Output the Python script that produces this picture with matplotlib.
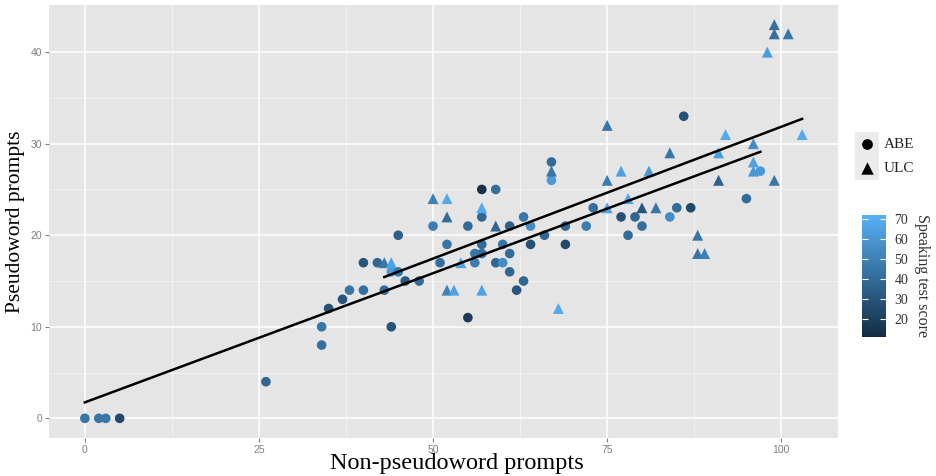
import numpy as np
import matplotlib.pyplot as plt
from matplotlib.colors import LinearSegmentedColormap, Normalize
from matplotlib.colorbar import ColorbarBase

# ABE group (circles): non-pseudoword score, pseudoword score, speaking test score
abe_x = [0, 2, 3, 5, 26, 34, 34, 35, 37, 38, 40, 43, 40, 42, 44, 45, 45, 44, 46, 48,
         50, 51, 52, 55, 55, 56, 56, 57, 57, 57, 57, 59, 59, 60, 60, 61, 61, 61, 62, 63,
         63, 64, 64, 66, 67, 67, 69, 69, 72, 73, 77, 78, 79, 80, 84, 85, 86, 87, 95, 97]
abe_y = [0, 0, 0, 0, 4, 8, 10, 12, 13, 14, 14, 14, 17, 17, 16, 16, 20, 10, 15, 15,
         21, 17, 19, 21, 11, 18, 17, 25, 22, 19, 18, 25, 17, 17, 19, 21, 18, 16, 14, 15,
         22, 21, 19, 20, 28, 26, 21, 19, 21, 23, 22, 20, 22, 21, 22, 23, 33, 23, 24, 27]
abe_score = [45, 45, 45, 25, 38, 42, 45, 28, 30, 45, 42, 40, 30, 38, 62, 45, 35, 30, 32, 40,
             48, 42, 45, 40, 18, 45, 48, 14, 38, 40, 42, 42, 38, 55, 45, 35, 40, 38, 30, 38,
             45, 55, 28, 38, 40, 62, 38, 25, 48, 42, 28, 40, 38, 42, 55, 40, 28, 25, 40, 60]

# ULC group (triangles)
ulc_x = [43, 44, 50, 52, 52, 52, 53, 54, 57, 57, 59, 67, 68, 75, 75, 75, 77, 78, 80, 81,
         82, 84, 88, 88, 89, 91, 91, 92, 96, 96, 96, 98, 99, 99, 101, 99, 103]
ulc_y = [17, 17, 24, 24, 22, 14, 14, 17, 23, 14, 21, 27, 12, 32, 26, 23, 27, 24, 23, 27,
         23, 29, 20, 18, 18, 26, 29, 31, 30, 28, 27, 40, 43, 42, 42, 26, 31]
ulc_score = [45, 65, 50, 68, 40, 50, 65, 65, 68, 65, 38, 45, 68, 45, 48, 65, 65, 65, 30, 60,
             45, 45, 45, 45, 50, 35, 62, 68, 55, 65, 60, 62, 42, 42, 45, 45, 68]

x_ticks = [0, 25, 50, 75, 100]
y_ticks = [0, 10, 20, 30, 40]
cbar_ticks = [20, 30, 40, 50, 60, 70]
score_lims = (11, 72)

serif = 'Liberation Serif'
cmap = LinearSegmentedColormap.from_list('gg', ['#132B43', '#56B1F7'])
norm = Normalize(*score_lims)

fig = plt.figure(figsize=(9.36, 4.76), dpi=100)
ax = fig.add_axes([49/936, 1 - 438/476, 789/936, 433/476])
ax.set_facecolor('#E5E5E5')

xmin, xmax = 0, 103
ymin, ymax = 0, 43
ax.set_xlim(xmin - 0.05*(xmax - xmin), xmax + 0.05*(xmax - xmin))
ax.set_ylim(ymin - 0.05*(ymax - ymin), ymax + 0.05*(ymax - ymin))

ax.set_xticks(x_ticks)
ax.set_yticks(y_ticks)
ax.set_xticks([12.5, 37.5, 62.5, 87.5], minor=True)
ax.set_yticks([5, 15, 25, 35], minor=True)
ax.grid(which='major', color='white', lw=1.1)
ax.grid(which='minor', color='#F4F4F4', lw=0.6)
ax.set_axisbelow(True)
for s in ax.spines.values():
    s.set_visible(False)
ax.tick_params(which='major', length=3, width=0.8, color='#7F7F7F', labelcolor='#7F7F7F',
               labelsize=7.5, pad=2)
ax.tick_params(which='minor', length=0)
for lab in ax.get_xticklabels() + ax.get_yticklabels():
    lab.set_family('Liberation Sans')

ax.scatter(abe_x, abe_y, c=abe_score, cmap=cmap, norm=norm, marker='o', s=48, lw=0, zorder=3)
ax.scatter(ulc_x, ulc_y, c=ulc_score, cmap=cmap, norm=norm, marker='^', s=62, lw=0, zorder=3)

for gx, gy in [(abe_x, abe_y), (ulc_x, ulc_y)]:
    b, a = np.polyfit(gx, gy, 1)
    xs = np.array([min(gx), max(gx)])
    ax.plot(xs, a + b*xs, color='black', lw=1.8, zorder=4)

ax.set_xlabel('Non-pseudoword prompts', family=serif, fontsize=17.5)
ax.xaxis.set_label_coords((457 - 49) / 789, -0.035, transform=ax.transAxes)
ax.xaxis.label.set_va('top')
ax.set_ylabel('Pseudoword prompts', family=serif, fontsize=15.5, labelpad=4)

# shape legend
lax = fig.add_axes([855/936, 1 - 180/476, 24/936, 48/476])
lax.set_facecolor('#EBEBEB')
lax.set_xlim(0, 1)
lax.set_ylim(0, 2)
lax.scatter([0.5], [1.5], marker='o', s=60, color='black', lw=0)
lax.scatter([0.5], [0.5], marker='^', s=80, color='black', lw=0)
lax.set_xticks([])
lax.set_yticks([])
for s in lax.spines.values():
    s.set_visible(False)
fig.text(884/936, 1 - 144/476, 'ABE', family=serif, fontsize=11, va='center', color='#222222')
fig.text(884/936, 1 - 168/476, 'ULC', family=serif, fontsize=11, va='center', color='#222222')

# colour bar
cax = fig.add_axes([862/936, 1 - 337/476, 24/936, 122/476])
cb = ColorbarBase(cax, cmap=cmap, norm=norm, ticks=cbar_ticks)
cb.outline.set_visible(False)
cax.tick_params(direction='in', length=4, width=0.8, color='white', left=True, right=True,
                labelsize=10, pad=6)
for lab in cax.get_yticklabels():
    lab.set_family(serif)
    lab.set_color('#333333')
fig.text(922/936, 1 - 276/476, 'Speaking test score', family=serif, fontsize=11.5,
         rotation=-90, ha='center', va='center', color='#333333')

fig.savefig('out.png', dpi=100)
